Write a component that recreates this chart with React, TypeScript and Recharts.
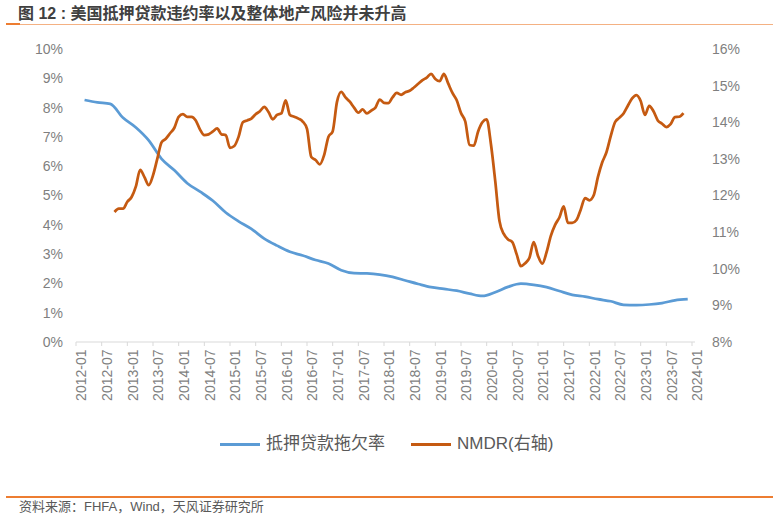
import React from 'react';
import { LineChart, Line, XAxis, YAxis } from 'recharts';

// month categories 2012-01 .. 2024-01
const months: string[] = [];
for (let y = 2012; y <= 2024; y++) {
  for (let mo = 1; mo <= 12; mo++) {
    if (y === 2024 && mo > 1) break;
    months.push(`${y}-${String(mo).padStart(2, '0')}`);
  }
}

// 抵押贷款拖欠率 (%), quarterly, first point 2012-03
const delinquencyStart = 2;
const delinquency = [
  8.26, 8.18, 8.13, 7.65, 7.32, 6.88, 6.25, 5.86, 5.42, 5.13, 4.82, 4.42,
  4.12, 3.86, 3.53, 3.29, 3.08, 2.95, 2.8, 2.68, 2.45, 2.35, 2.34, 2.3,
  2.22, 2.1, 1.98, 1.87, 1.81, 1.75, 1.65, 1.57, 1.7, 1.88, 1.99, 1.95,
  1.87, 1.74, 1.61, 1.55, 1.46, 1.39, 1.27, 1.26, 1.28, 1.33, 1.42, 1.46,
];

// NMDR (%), monthly, first point 2012-10
const nmdrStart = 9;
const nmdr = [
  11.55, 11.64, 11.64, 11.83, 11.96, 12.25, 12.7, 12.5, 12.28, 12.55, 13.0, 13.45,
  13.55, 13.7, 13.85, 14.15, 14.22, 14.15, 14.15, 14.05, 13.8, 13.65, 13.67, 13.75,
  13.83, 13.67, 13.65, 13.3, 13.35, 13.6, 14.0, 14.05, 14.1, 14.22, 14.3, 14.42,
  14.28, 14.08, 14.2, 14.24, 14.6, 14.2, 14.15, 14.1, 14.02, 13.82, 13.05, 12.97,
  12.85, 13.1, 13.6, 13.75, 14.55, 14.83, 14.68, 14.56, 14.4, 14.26, 14.35, 14.24,
  14.32, 14.4, 14.62, 14.53, 14.52, 14.68, 14.8, 14.75, 14.82, 14.86, 14.95, 15.05,
  15.15, 15.22, 15.32, 15.18, 15.12, 15.32, 15.06, 14.8, 14.6, 14.25, 14.02, 13.38,
  13.36, 13.75, 14.0, 14.08, 13.4, 12.4, 11.3, 10.95, 10.8, 10.73, 10.4, 10.07,
  10.15, 10.3, 10.73, 10.35, 10.14, 10.45, 10.9, 11.2, 11.4, 11.7, 11.25, 11.25,
  11.33, 11.62, 11.93, 11.87, 12.0, 12.5, 12.9, 13.18, 13.62, 14.0, 14.12, 14.24,
  14.45, 14.65, 14.74, 14.58, 14.2, 14.45, 14.3, 14.05, 13.96, 13.87, 13.95, 14.14,
  14.15, 14.25,
];

const leftTicks = [0, 1, 2, 3, 4, 5, 6, 7, 8, 9, 10];
const rightTicks = [8, 9, 10, 11, 12, 13, 14, 15, 16];

const data = months.map((label, i) => {
  const qi = i - delinquencyStart;
  const ni = i - nmdrStart;
  return {
    label,
    delinquency: qi >= 0 && qi % 3 === 0 && qi / 3 < delinquency.length ? delinquency[qi / 3] : null,
    nmdr: ni >= 0 && ni < nmdr.length ? nmdr[ni] : null,
  };
});

const FONT = '"Liberation Sans", "Noto Sans CJK SC", sans-serif';
const GREY = '#7f7f7f';

const XTick = (props: any) => {
  const { x, y, payload } = props;
  return (
    <text
      x={0}
      y={0}
      transform={`translate(${x + 5.5},${y + 1.5}) rotate(-90)`}
      textAnchor="end"
      dy="0.35em"
      fill={GREY}
      fontSize={14}
      fontFamily={FONT}
    >
      {payload.value}
    </text>
  );
};

export default function App() {
  return (
    <div style={{ position: 'absolute', left: 0, top: 0, width: 773, height: 519, background: '#fff', fontFamily: FONT }}>
      <div style={{ position: 'absolute', left: 18, top: 4, fontSize: 16, lineHeight: '20px', fontWeight: 'bold', color: '#404040', whiteSpace: 'pre' }}>
        图 12 : 美国抵押贷款违约率以及整体地产风险并未升高
      </div>
      <div style={{ position: 'absolute', left: 6, top: 24, width: 767, height: 1, background: '#F4B183' }} />
      <div style={{ position: 'absolute', left: 6, top: 23, width: 14, height: 2, background: '#ED7D31' }} />

      <div style={{ position: 'absolute', left: 0, top: 0 }}>
        <LineChart width={773} height={420} data={data} margin={{ top: 49, right: 0, bottom: 18, left: 0 }}>
          <XAxis
            dataKey="label"
            interval={5}
            height={60}
            tickSize={4}
            tickMargin={2}
            padding={{ left: 0, right: 3 }}
            axisLine={{ stroke: '#d9d9d9' }}
            tickLine={{ stroke: '#d9d9d9' }}
            tick={<XTick />}
          />
          <YAxis
            yAxisId="left"
            width={76}
            domain={[0, 10]}
            ticks={leftTicks}
            axisLine={false}
            tickLine={false}
            tickSize={0}
            tickMargin={13}
            tickFormatter={(v) => `${v}%`}
            tick={{ fill: GREY, fontSize: 14, fontFamily: FONT }}
          />
          <YAxis
            yAxisId="right"
            orientation="right"
            width={78}
            domain={[8, 16]}
            ticks={rightTicks}
            axisLine={false}
            tickLine={false}
            tickSize={0}
            tickMargin={17}
            tickFormatter={(v) => `${v}%`}
            tick={{ fill: GREY, fontSize: 14, fontFamily: FONT, textAnchor: 'start' }}
          />
          <Line
            yAxisId="left"
            type="monotone"
            dataKey="delinquency"
            stroke="#5B9BD5"
            strokeWidth={2.75}
            dot={false}
            connectNulls
            isAnimationActive={false}
          />
          <Line
            yAxisId="right"
            type="monotone"
            dataKey="nmdr"
            stroke="#C55A11"
            strokeWidth={2.75}
            dot={false}
            connectNulls
            isAnimationActive={false}
          />
        </LineChart>
      </div>

      <div style={{ position: 'absolute', left: 220, top: 434, display: 'flex', alignItems: 'center', fontSize: 17, lineHeight: '20px', color: '#595959', whiteSpace: 'nowrap' }}>
        <div style={{ width: 40, height: 3, background: '#5B9BD5', marginRight: 6 }} />
        <span>抵押贷款拖欠率</span>
        <div style={{ width: 40, height: 3, background: '#C55A11', marginLeft: 26, marginRight: 6 }} />
        <span>NMDR(右轴)</span>
      </div>

      <div style={{ position: 'absolute', left: 6, top: 496, width: 767, height: 1.5, background: '#ED7D31' }} />
      <div style={{ position: 'absolute', left: 19, top: 499, fontSize: 13, lineHeight: '16px', color: '#595959', whiteSpace: 'nowrap' }}>
        资料来源：FHFA，Wind，天风证券研究所
      </div>
    </div>
  );
}
